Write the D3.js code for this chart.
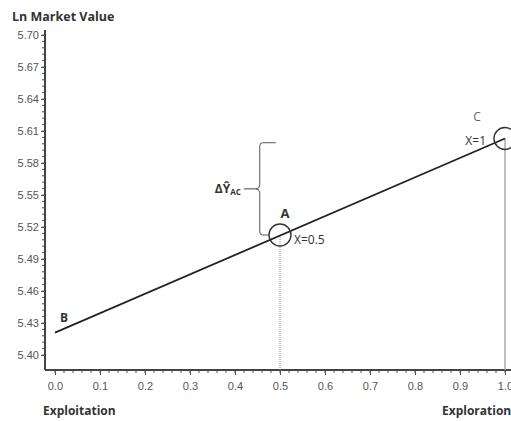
<!DOCTYPE html>
<html>
<head>
<meta charset="utf-8">
<script src="https://cdn.jsdelivr.net/npm/d3@7"></script>
<style>
  body { margin: 0; background: #fff; }
  svg { display: block; }
</style>
</head>
<body>
<div id="chart"></div>
<script>
const xTicks = [0, 0.1, 0.2, 0.3, 0.4, 0.5, 0.6, 0.7, 0.8, 0.9, 1.0];
const yTicks = [5.40, 5.43, 5.46, 5.49, 5.52, 5.55, 5.58, 5.61, 5.64, 5.67, 5.70];
const lineX = [0, 1];
const lineY = [5.421, 5.603];
const points = [
  { name: "A", label: "X=0.5", x: 0.5, y: 5.5125 },
  { name: "C", label: "X=1", x: 1.0, y: 5.603 }
];
const braceX = 0.455;
const braceRange = [5.5125, 5.599];

const width = 511, height = 421;

const x = d3.scaleLinear().domain([0, 1]).range([55, 505]);
const y = d3.scaleLinear().domain([5.40, 5.70]).range([355, 35]);
const axisY = 370, axisX = 45;

const svg = d3.select("#chart").append("svg")
  .attr("width", width)
  .attr("height", height)
  .style("font-family", "'Liberation Sans', Arial, sans-serif");

// minor ticks
const xMinor = d3.range(0, 1.0201, 0.02);
svg.append("g").selectAll("line").data(xMinor).join("line")
  .attr("x1", d => x(d)).attr("x2", d => x(d))
  .attr("y1", axisY).attr("y2", axisY + 3)
  .attr("stroke", "#555").attr("stroke-width", 1);

const yMinor = d3.range(5.40, 5.7001, 0.006);
svg.append("g").selectAll("line").data(yMinor).join("line")
  .attr("x1", axisX - 3).attr("x2", axisX)
  .attr("y1", d => y(d)).attr("y2", d => y(d))
  .attr("stroke", "#555").attr("stroke-width", 1);

// x axis
const xAxis = svg.append("g")
  .attr("transform", `translate(0,${axisY})`)
  .call(d3.axisBottom(x).tickValues(xTicks).tickFormat(d3.format(".1f")).tickSize(5).tickSizeOuter(0));
xAxis.select(".domain").remove();
xAxis.selectAll(".tick line").attr("stroke", "#555");
xAxis.selectAll("text").attr("fill", "#555").style("font-size", "11px").attr("dy", "1.1em");

// y axis
const yAxis = svg.append("g")
  .attr("transform", `translate(${axisX},0)`)
  .call(d3.axisLeft(y).tickValues(yTicks).tickFormat(d3.format(".2f")).tickSize(4).tickSizeOuter(0));
yAxis.select(".domain").remove();
yAxis.selectAll(".tick line").attr("stroke", "#555");
yAxis.selectAll("text").attr("fill", "#555").style("font-size", "11px").attr("x", -6);

// axis lines
svg.append("line")
  .attr("x1", axisX).attr("x2", axisX)
  .attr("y1", 30).attr("y2", axisY)
  .attr("stroke", "#444").attr("stroke-width", 2);
svg.append("line")
  .attr("x1", axisX).attr("x2", width)
  .attr("y1", axisY).attr("y2", axisY)
  .attr("stroke", "#444").attr("stroke-width", 2);

// drop lines
const pA = points[0], pC = points[1];
svg.append("line")
  .attr("x1", x(pA.x)).attr("x2", x(pA.x))
  .attr("y1", y(pA.y)).attr("y2", axisY)
  .attr("stroke", "#888").attr("stroke-width", 1)
  .attr("stroke-dasharray", "1,1");
svg.append("line")
  .attr("x1", x(pC.x)).attr("x2", x(pC.x))
  .attr("y1", y(pC.y)).attr("y2", axisY)
  .attr("stroke", "#aaa").attr("stroke-width", 1.5);

// regression line
svg.append("path")
  .datum(lineX.map((d, i) => [d, lineY[i]]))
  .attr("fill", "none")
  .attr("stroke", "#222")
  .attr("stroke-width", 1.7)
  .attr("d", d3.line().x(d => x(d[0])).y(d => y(d[1])));

// circles
svg.append("g").selectAll("circle").data(points).join("circle")
  .attr("cx", d => x(d.x)).attr("cy", d => y(d.y))
  .attr("r", 11)
  .attr("fill", "none")
  .attr("stroke", "#333")
  .attr("stroke-width", 1.4);

// brace
const bx = x(braceX), bTop = y(braceRange[1]), bBot = y(braceRange[0]);
const bMid = (bTop + bBot) / 2;
const brace = d3.path();
brace.moveTo(bx + 16, bTop);
brace.lineTo(bx + 3, bTop);
brace.quadraticCurveTo(bx, bTop, bx, bTop + 3);
brace.lineTo(bx, bMid - 4);
brace.quadraticCurveTo(bx, bMid, bx - 4, bMid);
brace.quadraticCurveTo(bx, bMid, bx, bMid + 4);
brace.lineTo(bx, bBot - 3);
brace.quadraticCurveTo(bx, bBot, bx + 3, bBot);
brace.lineTo(x(pA.x) - 11, bBot);
svg.append("path")
  .attr("d", brace.toString())
  .attr("fill", "none")
  .attr("stroke", "#555")
  .attr("stroke-width", 1);
svg.append("line")
  .attr("x1", bx - 16).attr("x2", bx - 4)
  .attr("y1", bMid).attr("y2", bMid)
  .attr("stroke", "#444").attr("stroke-width", 1);

const dLabel = svg.append("text")
  .attr("x", bx - 19).attr("y", bMid + 4)
  .attr("text-anchor", "end")
  .attr("fill", "#333")
  .style("font-family", "'Open Sans', sans-serif")
  .style("font-size", "12px")
  .style("font-weight", "bold");
dLabel.append("tspan").text("ΔŶ");
dLabel.append("tspan").attr("dy", 2).style("font-size", "8px").text("AC");

// point labels
const txt = (t, px, py, opts = {}) => svg.append("text")
  .attr("x", px).attr("y", py)
  .attr("fill", opts.fill || "#333")
  .style("font-family", "'Open Sans', sans-serif")
  .style("font-size", (opts.size || 12) + "px")
  .style("font-weight", opts.weight || "normal")
  .attr("text-anchor", opts.anchor || "start")
  .text(t);

txt(pA.name, x(pA.x) + 5, y(pA.y) - 17, { weight: "bold", size: 13, anchor: "middle" });
txt(pA.label, x(pA.x) + 14, y(pA.y) + 9, { size: 12 });
txt(pC.name, x(pC.x) - 28, y(pC.y) - 17, { size: 12, fill: "#666", anchor: "middle" });
txt(pC.label, x(pC.x) - 19, y(pC.y) + 7, { size: 12, anchor: "end" });
txt("B", x(0) + 5, y(lineY[0]) - 11, { size: 12, weight: "bold" });

// titles
txt("Ln Market Value", 12, 21, { weight: "bold", size: 12.5 });
txt("Exploitation", 43, 415, { weight: "bold", size: 12 });
txt("Exploration", 442, 415, { weight: "bold", size: 12 });
</script>
</body>
</html>
